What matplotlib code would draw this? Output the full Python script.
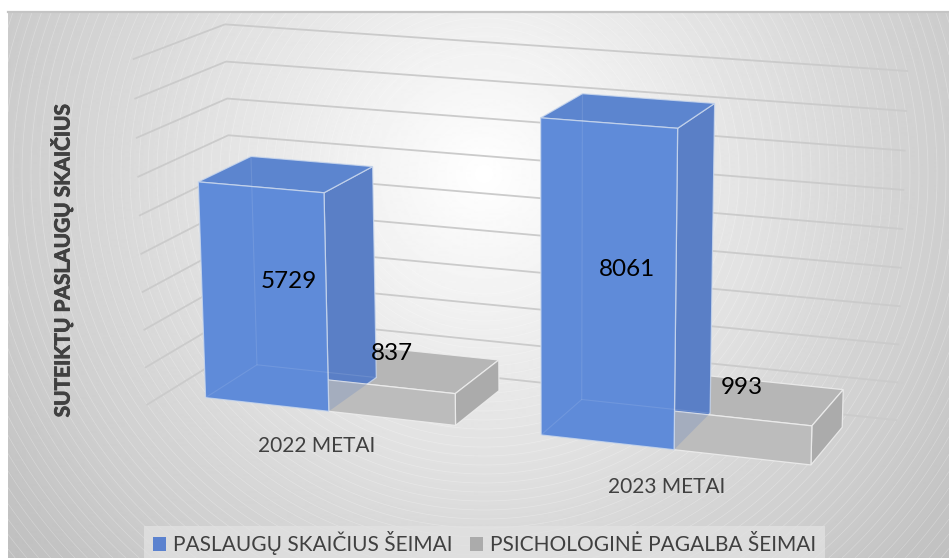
import numpy as np
import matplotlib
matplotlib.use("Agg")
import matplotlib.pyplot as plt
import matplotlib.patheffects as pe
from matplotlib.patches import Polygon, Patch, Rectangle

plt.rcParams['font.family'] = ['Lato', 'DejaVu Sans']

categories = ["2022 METAI", "2023 METAI"]
series_names = ["PASLAUGŲ SKAIČIUS ŠEIMAI", "PSICHOLOGINĖ PAGALBA ŠEIMAI"]
services = [5729, 8061]
psych_help = [837, 993]
grid_values = [0, 1000, 2000, 3000, 4000, 5000, 6000, 7000, 8000, 9000]

W = 0.376
Z_FRONT = 0.2
Z_BACK = 0.8

# perspective camera: (category pos, depth, value/1000, 1) -> pixels
CAMERA = np.array([
    [318.138, 102.628, -1.98461, 147.255],
    [21.4153, -31.9693, -38.609, 404.579],
    [-0.037225, 0.0635153, -0.00355678, 1],
])


def project(x, z, value):
    p = CAMERA @ np.array([x, z, value / 1000, 1.0])
    return p[0] / p[2], p[1] / p[2]


def box_faces(x0, x1, value):
    return {
        "front": [project(x0, Z_FRONT, 0), project(x1, Z_FRONT, 0), project(x1, Z_FRONT, value), project(x0, Z_FRONT, value)],
        "side": [project(x1, Z_FRONT, 0), project(x1, Z_BACK, 0), project(x1, Z_BACK, value), project(x1, Z_FRONT, value)],
        "top": [project(x0, Z_FRONT, value), project(x1, Z_FRONT, value), project(x1, Z_BACK, value), project(x0, Z_BACK, value)],
    }


fig = plt.figure(figsize=(9.49, 5.58), dpi=100, facecolor="white")
ax = fig.add_axes([0, 0, 1, 1])

# radial background
xs = np.arange(8, 950)
ys = np.arange(11, 559)
gx, gy = np.meshgrid(xs, ys)
r = np.hypot(gx - 484, gy - 174)
ax.imshow(255 - r * 0.105, extent=(8, 949, 558, 11), cmap="gray", vmin=0, vmax=255, zorder=0, aspect="auto")
ax.contour(gx, gy, r, levels=np.arange(120, 700, 9), colors="white", linewidths=0.5, alpha=0.28, zorder=1)
ax.plot([8, 949], [11.5, 11.5], color="#c4c4c4", lw=1.6, zorder=2)

for g in grid_values:
    left = project(0, 0, g)
    corner = project(0, 1, g)
    right = project(2, 1, g)
    ax.plot([left[0], corner[0], right[0]], [left[1], corner[1], right[1]], color="#cbcbcb", lw=1.3, zorder=3)

edge_blue = (0.80, 0.85, 0.93, 0.8)
edge_grey = (0.93, 0.93, 0.93, 0.9)
for i in range(2):
    centre = i + 0.5
    blue = box_faces(centre - W, centre, services[i])
    grey = box_faces(centre, centre + W, psych_help[i])
    ax.add_patch(Polygon(grey["top"], fc="#b6b6b6", ec=edge_grey, lw=0.9, zorder=4))
    ax.add_patch(Polygon(grey["side"], fc="#ababab", ec=edge_grey, lw=0.9, zorder=4))
    ax.add_patch(Polygon(blue["side"], fc="#5a7fc6", ec=edge_blue, lw=0.9, zorder=5))
    grey_front = Polygon(grey["front"], fc="#bcbcbc", ec=edge_grey, lw=0.9, zorder=6)
    ax.add_patch(grey_front)
    # blue side showing through the grey front
    through = Polygon(blue["side"], fc="#5a7fc6", ec="none", alpha=0.24, zorder=6.5)
    ax.add_patch(through)
    through.set_clip_path(grey_front)
    ax.add_patch(Polygon(blue["top"], fc="#5c85cf", ec=edge_blue, lw=0.9, zorder=7))
    ax.add_patch(Polygon(blue["front"], fc="#5f8bd9", ec=edge_blue, lw=0.9, zorder=7))
    # faint back edges of the blue box
    x0 = centre - W
    hidden = [project(x0, Z_FRONT, 0), project(x0, Z_BACK, 0), project(centre, Z_BACK, 0)]
    ax.plot(*zip(*hidden), color="white", lw=0.8, alpha=0.1, zorder=8)
    vertical = [project(x0, Z_BACK, 0), project(x0, Z_BACK, services[i])]
    ax.plot(*zip(*vertical), color="white", lw=0.8, alpha=0.1, zorder=8)

label_pos = [(289, 282), (627, 270)]
small_pos = [(392, 353), (742, 387)]
for i in range(2):
    ax.text(*label_pos[i], str(services[i]), fontsize=17.5, color="black", ha="center", va="center", zorder=10)
    ax.text(*small_pos[i], str(psych_help[i]), fontsize=17.5, color="black", ha="center", va="center", zorder=10)

cat_pos = [(317, 446), (666.5, 487)]
for i in range(2):
    ax.text(*cat_pos[i], categories[i], fontsize=15, color="#404040", ha="center", va="center", zorder=10)

title = ax.text(62, 260.5, "SUTEIKTŲ PASLAUGŲ SKAIČIUS", rotation=90, fontsize=15, fontweight="bold", color="#404040",
                ha="center", va="center", zorder=10)
title.set_path_effects([pe.withStroke(linewidth=0.6, foreground="#404040")])

ax.add_patch(Rectangle((144, 526), 681, 32, fc="#e2e2e2", ec="none", alpha=0.75, zorder=9))
handles = [Patch(fc="#5b82cf", ec="none"), Patch(fc="#ababab", ec="none")]
leg = ax.legend(handles, series_names, loc="center", bbox_to_anchor=(484.5, 543), bbox_transform=ax.transData,
                ncol=2, frameon=False, fontsize=15, labelcolor="#404040", handlelength=0.65, handleheight=0.65,
                handletextpad=0.35, columnspacing=0.8, borderpad=0)
leg.set_zorder(10)

ax.set_xlim(0, 949)
ax.set_ylim(558, 0)
ax.axis("off")
fig.savefig("out.png", dpi=100)
